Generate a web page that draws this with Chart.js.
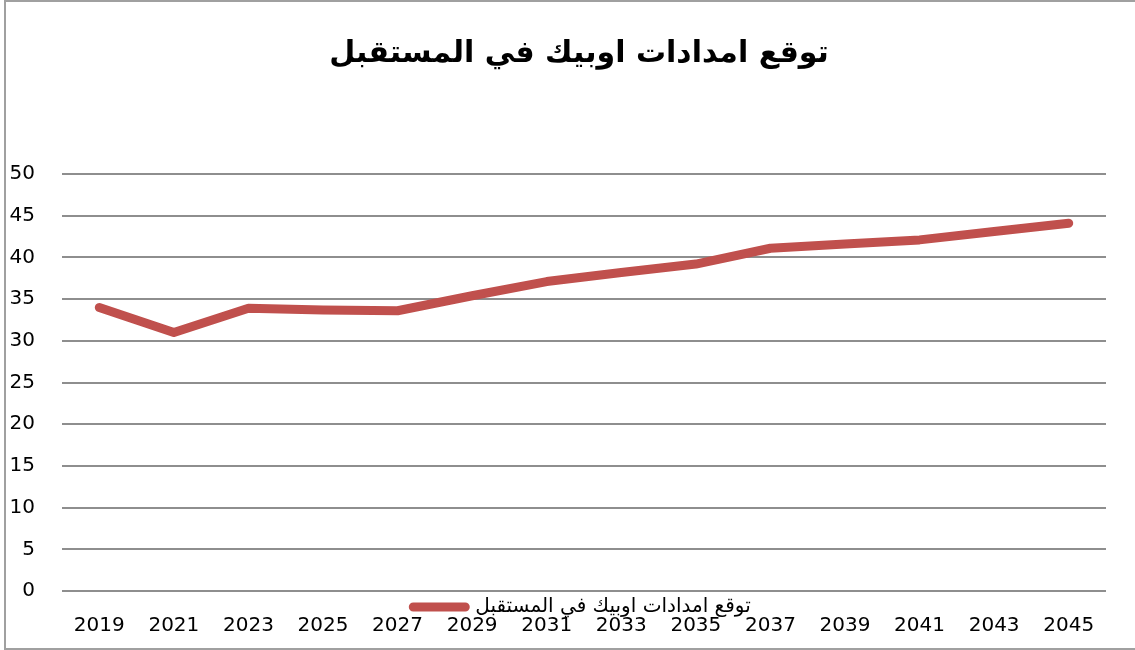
<!DOCTYPE html>
<html>
<head>
<meta charset="utf-8">
<script src="https://cdn.jsdelivr.net/npm/chart.js@4"></script>
<style>
    body { margin: 0; overflow: hidden; background: #fff; }
    #frame { position: absolute; left: 4px; top: 0; width: 2000px; height: 646px; border: 2px solid #a0a0a0; border-right: none; }
    #wrap { position: absolute; left: 0; top: 0; width: 1135px; height: 650px; }
</style>
</head>
<body>
<div id="frame"></div>
<div id="wrap"><canvas id="grafico-opep"></canvas></div>
<script>
// dados do grafico
const anos = ["2019", "2021", "2023", "2025", "2027", "2029", "2031", "2033", "2035", "2037", "2039", "2041", "2043", "2045"]
const valores = [34, 31, 33.9, 33.7, 33.6, 35.4, 37.1, 38.2, 39.2, 41.1, 41.6, 42.1, 43.1, 44.1]
const titulo = "توقع امدادات اوبيك في المستقبل"
const nomeSerie = "توقع امدادات اوبيك في المستقبل"

const fonte = "'DejaVu Sans', sans-serif"

// move a legenda para cima dos anos e o titulo um pouco para a direita, como no original
const ajustarCaixas = {
    id: 'ajustarCaixas',
    afterLayout(chart) {
        const lg = chart.legend
        lg.top = 587
        lg.bottom = lg.top + 40
        lg.left += 26
        lg.right += 26

        const tb = chart.titleBlock
        tb.left += 23
        tb.right += 23
    }
}

let myChartOpep = new Chart(
    document.getElementById("grafico-opep"),
    {
        type: "line",
        data: {
            labels: anos,
            datasets: [{
                label: nomeSerie,
                data: valores,
                borderColor: "#c0504d",
                backgroundColor: "#c0504d",
                borderWidth: 9,
                borderCapStyle: "round",
                borderJoinStyle: "round",
                pointRadius: 0,
                tension: 0
            }]
        },
        options: {
            responsive: true,
            maintainAspectRatio: false,
            animation: false,
            layout: {
                padding: { left: 6, right: 29, top: 0, bottom: -31 }
            },
            scales: {
                x: {
                    offset: true,
                    grid: { display: false, drawTicks: false },
                    border: { display: false },
                    ticks: {
                        padding: 23,
                        maxRotation: 0,
                        autoSkip: false,
                        color: "#000",
                        font: { family: fonte, size: 20 }
                    },
                    afterFit: s => { s.height = 50 }
                },
                y: {
                    min: 0,
                    max: 50,
                    grid: { color: "#8e8e8e", lineWidth: 2, drawTicks: false },
                    border: { display: false },
                    ticks: {
                        stepSize: 5,
                        padding: 27,
                        color: "#000",
                        font: { family: fonte, size: 20 }
                    },
                    afterFit: s => { s.width = 56 }
                }
            },
            plugins: {
                title: {
                    display: true,
                    text: titulo,
                    color: "#000",
                    font: { family: fonte, size: 30, weight: "bold" },
                    padding: { top: 36, bottom: 102 }
                },
                legend: {
                    position: "bottom",
                    labels: {
                        boxWidth: 52,
                        boxHeight: 0,
                        padding: 10,
                        color: "#000",
                        font: { family: fonte, size: 20 }
                    }
                },
                tooltip: { enabled: false }
            }
        },
        plugins: [ajustarCaixas]
    }
);
</script>
</body>
</html>
